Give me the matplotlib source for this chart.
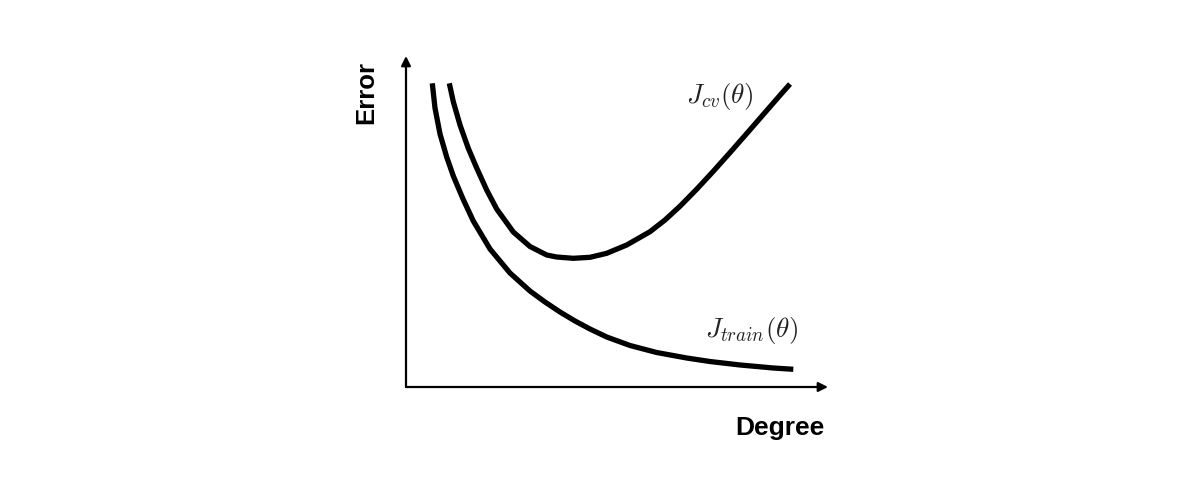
import matplotlib.pyplot as plt

plt.rcParams['mathtext.fontset'] = 'cm'

# curve points (arbitrary units, axes span 0..10)
train_degree = [0.623, 0.687, 0.806, 0.964, 1.121, 1.351, 1.595, 1.991, 2.464, 2.938,
                3.294, 3.649, 4.005, 4.360, 4.756, 5.308, 5.941, 6.652, 7.204, 7.915,
                8.704, 9.178]
train_error = [9.175, 8.429, 7.644, 6.949, 6.375, 5.680, 5.015, 4.169, 3.444, 2.900,
               2.568, 2.266, 1.994, 1.752, 1.511, 1.254, 1.042, 0.876, 0.770, 0.665,
               0.574, 0.535]

cv_degree = [1.026, 1.121, 1.280, 1.476, 1.675, 1.912, 2.149, 2.543, 2.938, 3.334,
             3.571, 3.964, 4.360, 4.756, 5.230, 5.782, 6.137, 6.493, 6.889, 7.282,
             7.678, 8.073, 8.467, 8.863, 9.100]
cv_error = [9.175, 8.619, 7.915, 7.211, 6.616, 5.952, 5.378, 4.683, 4.245, 3.988,
            3.927, 3.888, 3.918, 4.039, 4.290, 4.692, 5.045, 5.462, 5.976, 6.517,
            7.082, 7.656, 8.233, 8.813, 9.154]

fig = plt.figure(figsize=(12, 4.82), dpi=100)
ax = fig.add_axes([406 / 1200, 1 - 387 / 482, (828 - 406) / 1200, (387 - 56) / 482])
ax.set_xlim(0, 10)
ax.set_ylim(0, 10)
ax.axis('off')

arrow = dict(arrowstyle='-|>', lw=1.6, color='black', mutation_scale=14,
             shrinkA=0, shrinkB=0)
ax.annotate('', xy=(1, 0), xytext=(0, 0), xycoords='axes fraction', arrowprops=arrow)
ax.annotate('', xy=(0, 1), xytext=(0, 0), xycoords='axes fraction', arrowprops=arrow)

ax.plot(train_degree, train_error, color='black', lw=3.8, solid_capstyle='butt',
        solid_joinstyle='round')
ax.plot(cv_degree, cv_error, color='black', lw=3.8, solid_capstyle='butt',
        solid_joinstyle='round')

ax.text(7.44, 8.79, r'$J_{cv}(\theta)$', fontsize=19.5, ha='center', va='center', color='#222222')
ax.text(8.18, 1.72, r'$J_{train}(\theta)$', fontsize=19.5, ha='center', va='center', color='#222222')

fig.text(366 / 1200, 1 - 92 / 482, 'Error', rotation=90, fontsize=18.5, fontweight='bold',
         family='Liberation Sans', ha='center', va='center')
fig.text(780 / 1200, 1 - 428 / 482, 'Degree', fontsize=19, fontweight='bold',
         family='Liberation Sans', ha='center', va='center')

fig.savefig('out.png', dpi=100, facecolor='white')
